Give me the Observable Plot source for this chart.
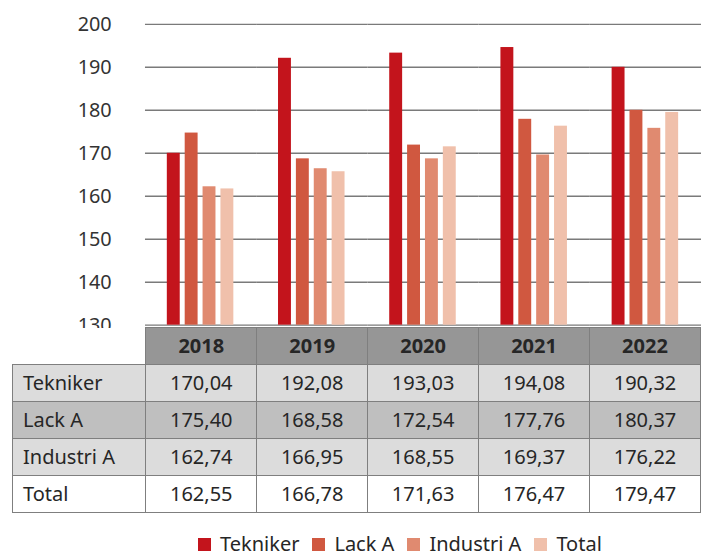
<!DOCTYPE html>
<html>
<head>
<meta charset="utf-8">
<script src="https://cdn.jsdelivr.net/npm/d3@7"></script>
<script src="https://cdn.jsdelivr.net/npm/@observablehq/plot@0.6"></script>
<style>
  html, body { margin: 0; padding: 0; background: #fff; overflow: hidden; }
  #wrap { position: relative; width: 701px; height: 555px; overflow: hidden; font-family: "Noto Sans", sans-serif; color: #262626; }
  #chart { position: absolute; left: 0; top: 0; }
  #tbl { position: absolute; left: 12px; top: 327px; border-collapse: collapse; table-layout: fixed; font-size: 20px; }
  #tbl td { height: 36px; padding: 0; border: 1px solid #7f7f7f; text-align: center; line-height: 36px; white-space: nowrap; overflow: hidden; }
  #tbl td.lbl { text-align: left; padding-left: 10px; }
  #tbl tr.head td { background: #969696; font-weight: bold; }
  #tbl tr.head td.blank { background: #fff; border: none; }
  #legend { position: absolute; left: 198px; top: 534px; display: flex; align-items: center; font-size: 20px; line-height: 20px; white-space: nowrap; }
  #legend .it { display: flex; align-items: center; margin-right: 13px; }
  #legend .sw { width: 13px; height: 13px; margin-right: 9px; }
</style>
</head>
<body>
<div id="wrap">
  <div id="chart"></div>
  <table id="tbl"></table>
  <div id="legend"></div>
</div>
<script>
const years = ["2018", "2019", "2020", "2021", "2022"];
const series = ["Tekniker", "Lack A", "Industri A", "Total"];
// values printed in the table
const tekniker = [170.04, 192.08, 193.03, 194.08, 190.32];
const lackA = [175.40, 168.58, 172.54, 177.76, 180.37];
const industriA = [162.74, 166.95, 168.55, 169.37, 176.22];
const total = [162.55, 166.78, 171.63, 176.47, 179.47];
// bar heights as drawn in the chart
const barTekniker = [170.0, 192.1, 193.3, 194.6, 190.0];
const barLackA = [174.7, 168.7, 171.9, 177.9, 180.0];
const barIndustriA = [162.2, 166.4, 168.7, 169.6, 175.8];
const barTotal = [161.7, 165.7, 171.5, 176.3, 179.5];
const colors = ["#c3141c", "#d05840", "#e08a70", "#f0c0ab"];
const yTicks = [130, 140, 150, 160, 170, 180, 190, 200];
const rowColors = ["#dcdcdc", "#bfbfbf", "#dcdcdc", "#ffffff"];

const tableValues = [tekniker, lackA, industriA, total];
const barValues = [barTekniker, barLackA, barIndustriA, barTotal];
const data = [];
years.forEach((yr, i) => series.forEach((s, j) => data.push({year: yr, series: s, value: barValues[j][i]})));

const chart = Plot.plot({
  width: 706,
  height: 340,
  marginLeft: 146,
  marginRight: 0,
  marginTop: 24,
  marginBottom: 13,
  style: {fontFamily: "Noto Sans", fontSize: "20px", color: "#333", overflow: "visible", background: "transparent"},
  fx: {domain: years, padding: 0, axis: null, label: null},
  x: {domain: series, paddingInner: 0.263, paddingOuter: 1.08, axis: null, label: null},
  y: {domain: [yTicks[0], yTicks[yTicks.length - 1]], label: null},
  color: {domain: series, range: colors},
  marks: [
    Plot.gridY(yTicks, {stroke: "#7a7a7a", strokeOpacity: 1, strokeWidth: 1.4}),
    Plot.axisY(yTicks, {tickSize: 0, tickPadding: 34, fontSize: 20, fill: "#333", label: null}),
    Plot.barY(data, {fx: "year", x: "series", y1: yTicks[0], y2: "value", fill: "series"})
  ]
});
document.getElementById("chart").appendChild(chart);

// Table
const tbl = d3.select("#tbl");
const cg = tbl.append("colgroup");
cg.append("col").style("width", "134px");
years.forEach(() => cg.append("col").style("width", "112px"));
const head = tbl.append("tr").attr("class", "head");
head.append("td").attr("class", "blank");
years.forEach(y => head.append("td").text(y));
series.forEach((s, j) => {
  const tr = tbl.append("tr").style("background", rowColors[j]);
  tr.append("td").attr("class", "lbl").text(s);
  tableValues[j].forEach(v => tr.append("td").text(v.toFixed(2).replace(".", ",")));
});

// Legend
const lg = d3.select("#legend");
series.forEach((s, j) => {
  const it = lg.append("div").attr("class", "it");
  it.append("div").attr("class", "sw").style("background", colors[j]);
  it.append("span").text(s);
});
</script>
</body>
</html>
